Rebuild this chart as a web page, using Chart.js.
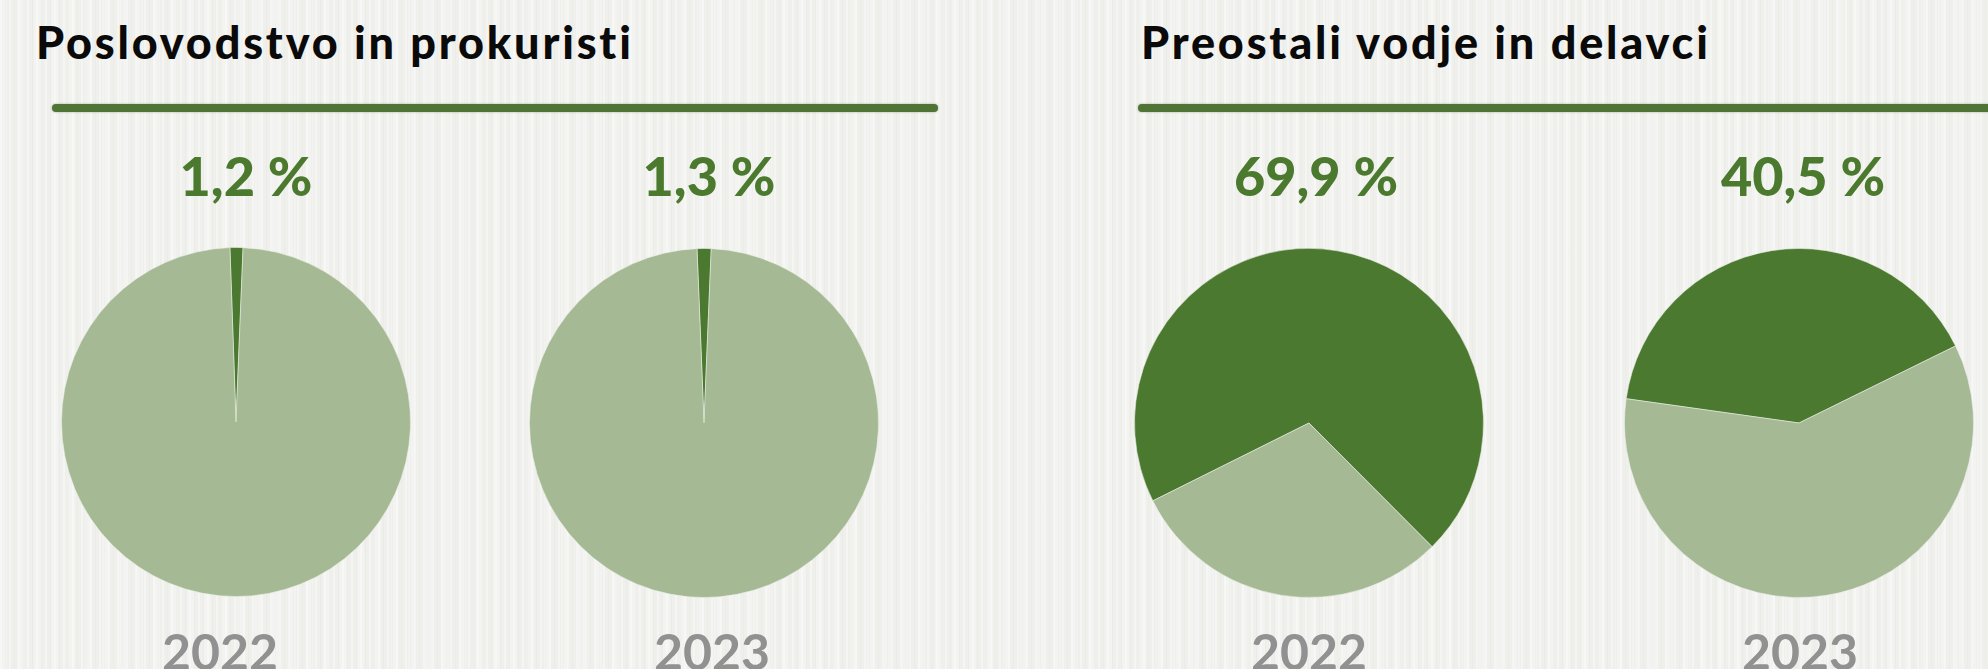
<!DOCTYPE html>
<html>
<head>
<meta charset="utf-8">
<script src="https://cdn.jsdelivr.net/npm/chart.js@4.4.1/dist/chart.umd.min.js"></script>
<style>
  html, body {
    margin: 0;
    padding: 0;
  }
  body {
    width: 1988px;
    height: 669px;
    overflow: hidden;
    position: relative;
    font-family: Lato, "Open Sans", sans-serif;
    background-color: #efefec;
    background-image:
      repeating-linear-gradient(90deg, rgba(255,255,255,0.35) 0 2px, rgba(0,0,0,0) 2px 5px, rgba(0,0,0,0.015) 5px 6px, rgba(0,0,0,0) 6px 9px),
      repeating-linear-gradient(90deg, rgba(255,255,255,0.25) 0 7px, rgba(0,0,0,0) 7px 17px);
  }
  .group-title {
    position: absolute;
    top: 20px;
    font-size: 45px;
    line-height: 1;
    font-weight: 900;
    letter-spacing: 2.8px;
    color: #0a0a0a;
    white-space: nowrap;
  }
  .rule {
    position: absolute;
    top: 104px;
    height: 8px;
    border-radius: 4px;
    background: #4f7436;
    box-shadow: 0 0 2px rgba(79, 116, 54, 0.6);
  }
  .share {
    position: absolute;
    top: 149px;
    width: 300px;
    margin-left: -150px;
    text-align: center;
    font-size: 54px;
    line-height: 1;
    font-weight: 900;
    color: #4b7a2f;
  }
  .year {
    position: absolute;
    top: 626px;
    width: 300px;
    margin-left: -150px;
    text-align: center;
    font-size: 50px;
    line-height: 1;
    font-weight: 700;
    color: #919191;
  }
  canvas {
    position: absolute;
  }
</style>
</head>
<body>

<script>
// podatki
const groups = ['Poslovodstvo in prokuristi', 'Preostali vodje in delavci'];
const years = ['2022', '2023'];
const sharePoslovodstvo = [1.2, 1.3];
const sharePreostali = [69.9, 40.5];

// postavitev
const titleLeft = [36, 1141];
const ruleSpan = [[52, 938], [1138, 2010]];
const pieCenters = [[236, 422], [704, 423], [1309, 423], [1799, 423]];
const pieSize = 350;
const labelCenters = [246, 709, 1316, 1803];
const yearCenters = [220, 712, 1309, 1800];
const pieRotation = [-2, -2.3, 243.5, 278];

const darkGreen = '#4a792f';
const lightGreen = '#a4b994';

const shares = [sharePoslovodstvo, sharePreostali];

function formatPct(value) {
    return value.toFixed(1).replace('.', ',') + ' %';
}

function addEl(cls, text, left) {
    const el = document.createElement('div');
    el.className = cls;
    el.textContent = text;
    el.style.left = left + 'px';
    document.body.appendChild(el);
    return el;
}

groups.forEach((group, g) => {
    addEl('group-title', group, titleLeft[g]);
    const rule = addEl('rule', '', ruleSpan[g][0]);
    rule.style.width = (ruleSpan[g][1] - ruleSpan[g][0]) + 'px';

    years.forEach((year, y) => {
        const i = g * years.length + y;
        const value = shares[g][y];

        addEl('share', formatPct(value), labelCenters[i]);
        addEl('year', year, yearCenters[i]);

        const canvas = document.createElement('canvas');
        canvas.width = pieSize;
        canvas.height = pieSize;
        canvas.style.left = (pieCenters[i][0] - pieSize / 2) + 'px';
        canvas.style.top = (pieCenters[i][1] - pieSize / 2) + 'px';
        document.body.appendChild(canvas);

        new Chart(canvas, {
            type: 'pie',
            data: {
                labels: [group, 'Ostali'],
                datasets: [{
                    data: [value, 100 - value],
                    backgroundColor: [darkGreen, lightGreen],
                    borderColor: 'rgba(236, 240, 232, 0.55)',
                    borderWidth: 1
                }]
            },
            options: {
                responsive: false,
                animation: false,
                rotation: pieRotation[i],
                layout: { padding: 0 },
                plugins: {
                    legend: { display: false },
                    tooltip: { enabled: false }
                }
            }
        });
    });
});
</script>
</body>
</html>
